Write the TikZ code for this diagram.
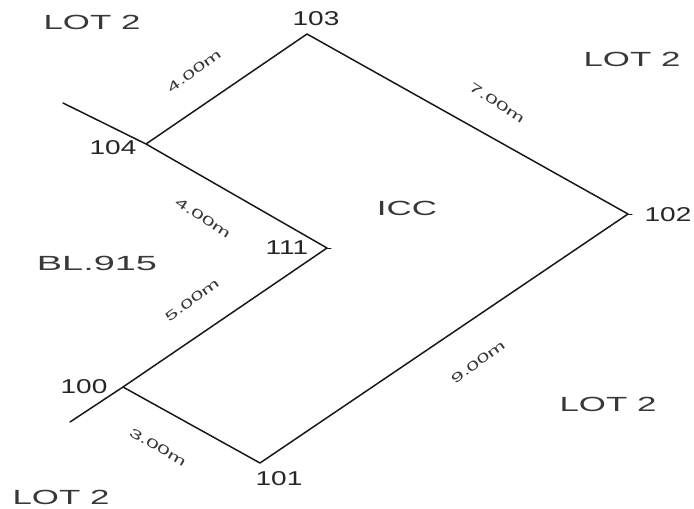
\documentclass[tikz,border=0pt]{standalone}
\usepackage{graphicx}
\usepackage{fontspec}
\setmainfont{Liberation Sans}
\newcommand{\wide}[1]{\scalebox{1.7}[1]{#1}}
\newcommand{\numwide}[1]{\scalebox{1.4}[1]{#1}}
\newcommand{\dimwide}[1]{\scalebox{1.75}[1]{#1}}
\tikzset{
  lot/.style={inner sep=0pt,text=black!78,font=\fontsize{20.5}{21}\selectfont},
  pointlabel/.style={inner sep=0pt,text=black!85,font=\fontsize{20}{20}\selectfont},
  dim/.style={inner sep=0pt,text=black!78,font=\fontsize{13}{13}\selectfont},
  bound/.style={line width=1.5pt,black!90,line cap=round,line join=round},
  tick/.style={line width=1pt,black!90,line cap=round}
}
\begin{document}
\begin{tikzpicture}[x=1pt,y=-1pt]
\useasboundingbox (0,0) rectangle (694,509);
\coordinate (p103) at (307,34);
\coordinate (p102) at (628,214);
\coordinate (p101) at (260,463);
\coordinate (p100) at (123,387);
\coordinate (p111) at (327,248);
\coordinate (p104) at (146,144);
\coordinate (e104) at (63,103);
\coordinate (e100) at (70,422);
\coordinate (t102) at (632,214);
\coordinate (t111) at (331,248);
\draw[bound] (p104) -- (p103) -- (p102) -- (p101) -- (p100) -- (p111) -- (p104) -- (e104);
\draw[bound] (p100) -- (e100);
\draw[tick] (p102) -- (t102);
\draw[tick] (p111) -- (t111);
\node[pointlabel] (l103) at (316,19) {\numwide{103}};
\node[pointlabel] (l102) at (668,215) {\numwide{102}};
\node[pointlabel] (l101) at (279,479) {\numwide{101}};
\node[pointlabel] (l100) at (84,387) {\numwide{100}};
\node[pointlabel] (l111) at (287,248) {\numwide{111}};
\node[pointlabel] (l104) at (113,148) {\numwide{104}};
\node[lot] (a) at (92,22) {\wide{LOT 2}};
\node[lot] (b) at (632,59) {\wide{LOT 2}};
\node[lot] (c) at (608,404) {\wide{LOT 2}};
\node[lot] (d) at (61,497) {\wide{LOT 2}};
\node[lot] (e) at (97,263) {\scalebox{1.85}[1]{BL.915}};
\node[lot] (f) at (407,208) {\wide{ICC}};
\node[dim,rotate=36] (d1) at (194,71) {\dimwide{4.00m}};
\node[dim,rotate=-33] (d2) at (497,103) {\dimwide{7.00m}};
\node[dim,rotate=-33] (d3) at (203,218) {\dimwide{4.00m}};
\node[dim,rotate=36] (d4) at (192,300) {\dimwide{5.00m}};
\node[dim,rotate=36] (d5) at (478,362) {\dimwide{9.00m}};
\node[dim,rotate=-30] (d6) at (158,447) {\dimwide{3.00m}};
\end{tikzpicture}
\end{document}
